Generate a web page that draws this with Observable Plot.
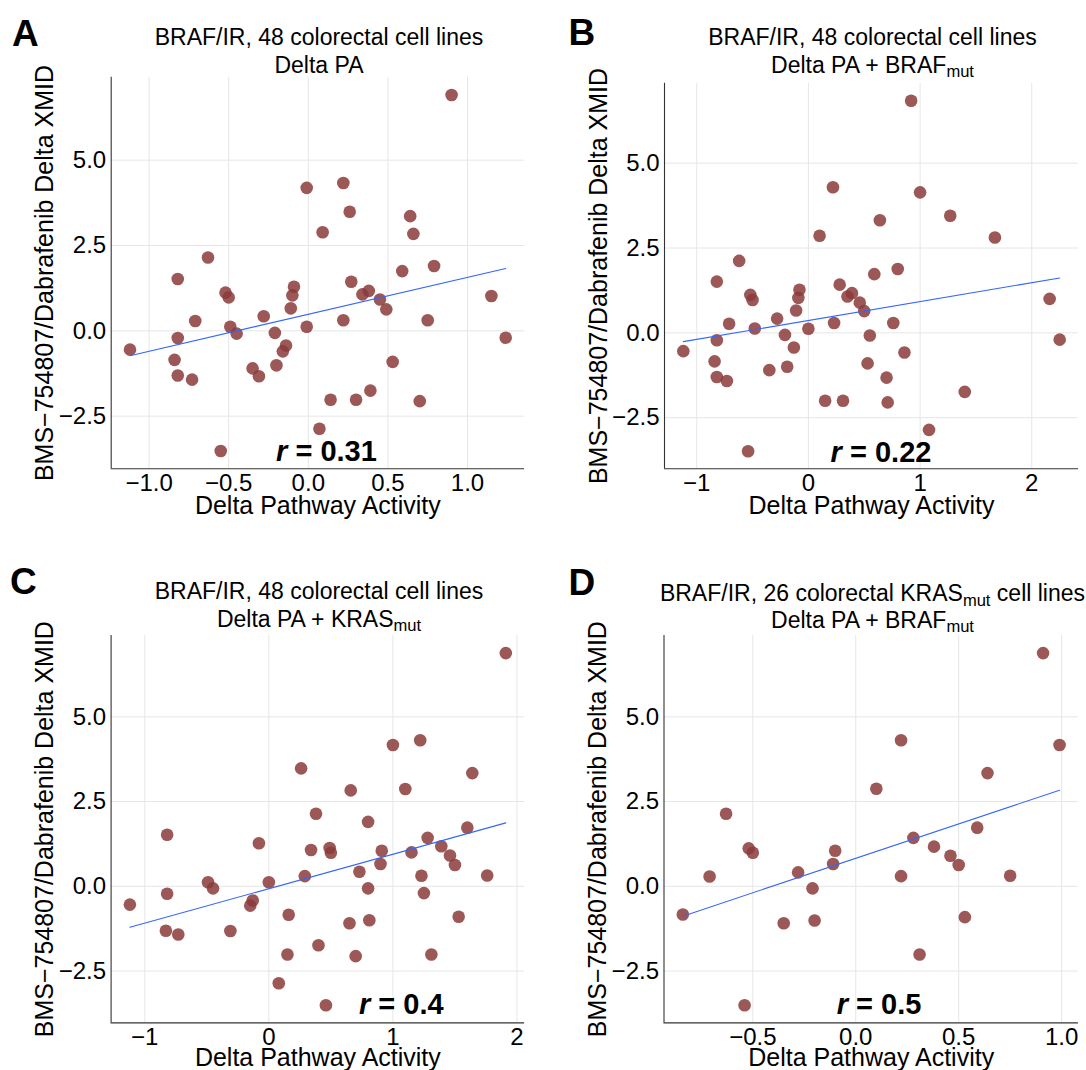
<!DOCTYPE html>
<html><head><meta charset="utf-8">
<script src="https://cdn.jsdelivr.net/npm/d3@7"></script>
<script src="https://cdn.jsdelivr.net/npm/@observablehq/plot@0.6"></script>
<style>
body{margin:0;background:#fff;}
#root{position:relative;width:1086px;height:1070px;overflow:hidden;background:#fff;font-family:"Liberation Sans",Arial,Helvetica,sans-serif;color:#000;}
.letter{position:absolute;font-weight:bold;font-size:37px;line-height:1;}
.title{position:absolute;font-size:23px;white-space:nowrap;line-height:1;transform:translateX(-50%);}
.sub{font-size:0.72em;position:relative;top:0.3em;}
#root svg{position:absolute;overflow:visible;}
</style>
</head><body><div id="root"></div>
<script>
// ---- data ----
const xA = [0.90,-0.01,0.22,0.26,0.64,0.66,0.09,-0.63,0.79,0.59,-0.82,0.27,-0.52,-0.50,-0.09,-0.10,0.34,0.38,0.45,0.49,1.15,-0.11,-0.71,-0.28,0.22,0.75,-0.01,-0.49,-0.45,-0.21,-0.82,1.24,-1.12,-0.14,-0.16,-0.84,-0.20,0.53,-0.35,-0.31,-0.82,-0.73,0.39,0.14,0.30,0.70,0.07,-0.55];
const yA = [6.91,4.19,4.33,3.49,3.36,2.84,2.89,2.15,1.90,1.75,1.52,1.44,1.12,0.98,1.29,1.04,1.07,1.17,0.92,0.63,1.02,0.66,0.29,0.43,0.31,0.31,0.12,0.12,-0.08,-0.06,-0.21,-0.20,-0.55,-0.43,-0.60,-0.85,-1.01,-0.91,-1.10,-1.33,-1.31,-1.43,-1.75,-2.02,-2.02,-2.06,-2.87,-3.52];

const xB = [0.92,0.22,1.00,1.27,0.64,0.10,1.67,-0.62,0.80,0.59,-0.82,0.28,-0.52,-0.50,-0.08,-0.09,0.35,0.39,0.46,0.50,2.16,-0.11,-0.71,-0.28,0.23,0.76,0.00,-0.48,0.55,-0.21,-0.82,2.25,-1.12,-0.13,0.86,-0.84,-0.19,0.53,-0.35,0.70,-0.82,-0.73,1.40,0.15,0.31,0.71,1.08,-0.54];
const yB = [6.84,4.29,4.14,3.45,3.32,2.86,2.81,2.12,1.88,1.73,1.51,1.42,1.12,0.97,1.27,1.03,1.07,1.17,0.89,0.64,1.00,0.66,0.27,0.42,0.29,0.29,0.12,0.13,-0.08,-0.06,-0.22,-0.20,-0.54,-0.43,-0.58,-0.84,-1.00,-0.90,-1.10,-1.32,-1.30,-1.42,-1.74,-2.00,-2.00,-2.05,-2.86,-3.49];

const xC = [1.91,1.00,1.22,0.26,1.64,0.66,1.10,0.38,0.80,1.60,-0.82,1.28,-0.08,0.34,0.49,0.50,0.91,1.15,1.39,1.46,1.50,0.90,0.73,0.29,1.23,1.76,0.00,-0.49,-0.45,0.80,-0.82,1.25,-1.12,-0.13,-0.15,0.16,0.81,1.53,0.65,-0.31,-0.83,-0.73,0.40,0.15,0.70,1.31,0.08,0.46];
const yC = [6.88,4.17,4.31,3.48,3.34,2.83,2.87,2.14,1.90,1.73,1.52,1.43,1.27,1.07,1.13,0.99,1.05,1.00,1.18,0.91,0.63,0.66,0.43,0.30,0.31,0.32,0.12,0.12,-0.06,-0.06,-0.22,-0.20,-0.54,-0.42,-0.57,-0.84,-1.00,-0.90,-1.09,-1.32,-1.31,-1.42,-1.74,-2.01,-2.06,-2.01,-2.86,-3.51];

const xD = [0.91,0.22,0.99,0.64,0.10,-0.63,0.59,0.28,-0.52,-0.50,-0.10,0.38,0.46,0.50,-0.11,-0.28,-0.71,0.22,0.75,-0.21,-0.84,0.53,-0.35,-0.20,0.31,-0.54];
const yD = [6.88,4.31,4.17,3.34,2.88,2.14,1.73,1.43,1.12,0.99,1.05,1.17,0.90,0.63,0.66,0.41,0.29,0.30,0.31,-0.06,-0.83,-0.91,-1.09,-1.01,-2.01,-3.51];

const yTicks = [-2.5, 0, 2.5, 5];
const xTicksA = [-1, -0.5, 0, 0.5, 1];
const xTicksB = [-1, 0, 1, 2];
const xTicksC = [-1, 0, 1, 2];
const xTicksD = [-0.5, 0, 0.5, 1];
const rValues = ["0.31", "0.22", "0.4", "0.5"];
const letters = ["A", "B", "C", "D"];
const titles1 = ["BRAF/IR, 48 colorectal cell lines", "BRAF/IR, 48 colorectal cell lines", "BRAF/IR, 48 colorectal cell lines", "BRAF/IR, 26 colorectal KRAS<span class='sub'>mut</span> cell lines"];
const titles2 = ["Delta PA", "Delta PA + BRAF<span class='sub'>mut</span>", "Delta PA + KRAS<span class='sub'>mut</span>", "Delta PA + BRAF<span class='sub'>mut</span>"];
const xLabel = "Delta Pathway Activity";
const yLabel = "BMS\u2212754807/Dabrafenib Delta XMID";

// ---- layout ----
const panels = [
  {x:xA, y:yA, xTicks:xTicksA, fmt:".1f", rx:0.114, ry:-3.54, left:0,   top:70,  width:543, height:470, mL:110.7, mR:19,  mT:6.7,  mB:71.7, xdy:27,
   lx:12, ly:14.7, tcx:319, t1:25.7, t2:54.3},
  {x:xB, y:yB, xTicks:xTicksB, fmt:"d",   rx:0.65,  ry:-3.52, left:543, top:70,  width:543, height:470, mL:121,   mR:8,   mT:12.7, mB:71.7, xdy:27,
   lx:568.5, ly:13.7, tcx:872.5, t1:25.5, t2:53.5},
  {x:xC, y:yC, xTicks:xTicksC, fmt:"d",   rx:1.068, ry:-3.50, left:0,   top:625, width:543, height:445, mL:110.6, mR:18.9, mT:10,  mB:47.6, xdy:25.5,
   lx:10, ly:562.7, tcx:319, t1:579.5, t2:607.5},
  {x:xD, y:yD, xTicks:xTicksD, fmt:".1f", rx:0.113, ry:-3.50, left:543, top:625, width:543, height:445, mL:120.5, mR:8.1,  mT:10,  mB:47.6, xdy:25.5,
   lx:568.5, ly:563.7, tcx:872.5, t1:582.3, t2:608.5}
];

function expand(arr) {
  const [a, b] = d3.extent(arr);
  const pad = (b - a) * 0.05;
  return [a - pad, b + pad];
}

const root = document.getElementById("root");
const grid = "#e6e6e6";

panels.forEach((p, i) => {
  const xd = expand(p.x), yd = expand(p.y);
  const data = p.x.map((v, k) => ({x: v, y: p.y[k]}));
  const svg = Plot.plot({
    width: p.width, height: p.height,
    marginLeft: p.mL, marginRight: p.mR, marginTop: p.mT, marginBottom: p.mB,
    x: {domain: xd},
    y: {domain: yd},
    style: {fontFamily: "'Liberation Sans', Arial, Helvetica, sans-serif", fontSize: "24px", color: "#000", background: "transparent", overflow: "visible"},
    marks: [
      Plot.gridX(p.xTicks, {stroke: grid, strokeOpacity: 1, strokeWidth: 1}),
      Plot.gridY(yTicks, {stroke: grid, strokeOpacity: 1, strokeWidth: 1}),
      Plot.ruleX([xd[0]], {stroke: "#333", strokeWidth: 1.1}),
      Plot.ruleY([yd[0]], {stroke: "#333", strokeWidth: 1.1}),
      Plot.axisX({ticks: p.xTicks, tickSize: 0, tickPadding: 5, tickFormat: d3.format(p.fmt), fontSize: 24, fill: "#000", label: null}),
      Plot.axisY({ticks: yTicks, tickSize: 0, tickPadding: 5, tickFormat: d3.format(".1f"), fontSize: 24, fill: "#000", label: null}),
      Plot.dot(data, {x: "x", y: "y", r: 6.3, fill: "#8B3A3A", fillOpacity: 0.85, stroke: "none"}),
      Plot.linearRegressionY(data, {x: "x", y: "y", stroke: "#3366FF", strokeWidth: 1.1, ci: 0}),
      Plot.text([`r = ${rValues[i]}`], {x: p.rx, y: p.ry, text: d => d, fontSize: 29, fontWeight: "bold", fill: "#000"}),
      Plot.text([xLabel], {frameAnchor: "bottom", dy: p.xdy, lineAnchor: "top", textAnchor: "middle", text: d => d, fontSize: 25, fill: "#000"}),
      Plot.text([yLabel], {frameAnchor: "left", rotate: -90, dx: -75.7, lineAnchor: "top", textAnchor: "middle", text: d => d, fontSize: 25, fill: "#000"})
    ]
  });
  svg.style.left = p.left + "px";
  svg.style.top = p.top + "px";
  svg.querySelectorAll("text").forEach(t => {
    if (t.textContent.startsWith("r = ")) {
      const rest = t.textContent.slice(1);
      t.textContent = "";
      const ts = document.createElementNS("http://www.w3.org/2000/svg", "tspan");
      ts.setAttribute("font-style", "italic");
      ts.textContent = "r";
      t.appendChild(ts);
      t.appendChild(document.createTextNode(rest));
    }
  });
  root.appendChild(svg);

  const L = document.createElement("div");
  L.className = "letter";
  L.style.left = p.lx + "px"; L.style.top = p.ly + "px";
  L.textContent = letters[i];
  root.appendChild(L);

  const T1 = document.createElement("div");
  T1.className = "title";
  T1.style.left = p.tcx + "px"; T1.style.top = p.t1 + "px";
  T1.innerHTML = titles1[i];
  root.appendChild(T1);

  const T2 = document.createElement("div");
  T2.className = "title";
  T2.style.left = p.tcx + "px"; T2.style.top = p.t2 + "px";
  T2.innerHTML = titles2[i];
  root.appendChild(T2);
});
</script>
</body></html>
